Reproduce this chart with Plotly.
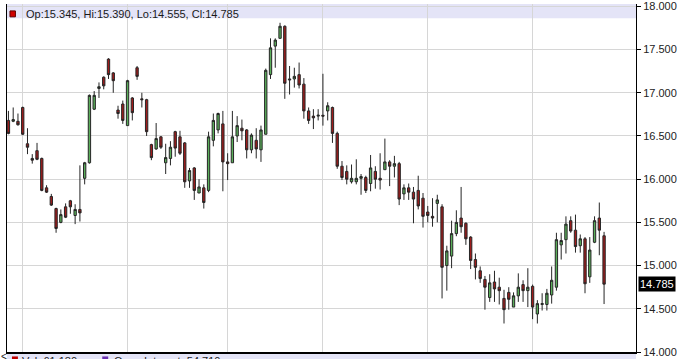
import plotly.graph_objects as go

opens = [16.68,16.67,16.67,16.83,16.41,16.24,16.33,16.24,15.90,15.80,
         15.66,15.50,15.68,15.75,15.58,15.65,16.01,16.19,16.81,17.05,
         17.18,17.39,17.23,16.80,16.87,16.62,16.94,17.29,16.93,16.92,
         16.40,16.35,16.49,16.19,16.24,16.55,16.49,16.42,15.98,16.13,
         15.84,15.90,15.87,16.45,16.57,16.64,16.20,16.19,16.50,16.59,
         16.57,16.34,16.45,16.34,16.52,17.21,17.54,17.63,17.77,17.16,
         17.16,17.21,17.10,16.79,16.73,16.73,16.74,16.79,16.83,16.53,
         16.15,16.09,15.97,15.97,16.01,16.02,15.95,16.09,16.01,16.11,
         16.20,16.15,16.18,15.83,15.90,15.85,15.87,15.78,15.62,15.57,
         15.72,15.68,15.00,15.11,15.37,15.55,15.49,15.33,15.07,14.94,
         14.84,14.63,14.81,14.75,14.62,14.69,14.52,14.65,14.78,14.71,
         14.76,14.44,14.55,14.55,14.66,14.75,15.24,15.30,15.52,15.41,
         15.23,15.31,14.87,15.27,15.55,15.345]
highs = [16.79,16.83,16.76,16.84,16.59,16.29,16.42,16.25,15.93,15.83,
         15.67,15.65,15.72,15.76,15.71,16.16,16.20,16.98,17.02,17.12,
         17.19,17.40,17.24,16.85,16.91,17.15,16.95,17.31,17.00,16.93,
         16.41,16.65,16.50,16.41,16.44,16.56,16.56,16.43,16.13,16.14,
         16.00,15.94,16.55,16.76,16.77,16.79,16.30,16.79,16.73,16.69,
         16.58,16.53,16.59,16.62,17.28,17.63,17.63,17.81,17.78,17.31,
         17.29,17.35,17.17,16.83,16.81,16.81,17.22,16.89,16.84,16.55,
         16.21,16.16,16.17,16.23,16.06,16.04,16.28,16.15,16.30,16.47,
         16.22,16.27,16.20,15.94,15.95,15.91,16.04,15.84,15.69,15.78,
         15.82,15.71,15.23,15.52,15.64,15.91,15.50,15.34,15.14,14.99,
         14.88,14.90,14.94,14.86,14.72,14.75,14.69,14.91,14.83,14.97,
         14.78,14.60,14.68,14.73,14.99,15.38,15.38,15.57,15.57,15.59,
         15.36,15.33,15.33,15.57,15.73,15.39]
lows = [16.52,16.66,16.62,16.51,16.29,16.18,16.22,15.86,15.84,15.69,
        15.38,15.49,15.55,15.60,15.48,15.51,15.94,16.18,16.80,16.94,
        17.04,17.16,17.00,16.70,16.64,16.62,16.68,17.15,16.83,16.50,
        16.22,16.34,16.35,16.06,16.16,16.26,16.28,15.90,15.90,15.76,
        15.84,15.66,15.85,16.38,16.53,15.86,15.99,16.19,16.43,16.45,
        16.24,16.30,16.24,16.20,16.52,17.16,17.29,17.63,16.93,16.98,
        17.06,17.05,16.70,16.64,16.58,16.68,16.62,16.68,16.42,16.12,
        15.99,15.94,15.95,15.94,15.82,15.84,15.86,15.89,15.88,16.11,
        15.92,16.02,15.70,15.76,15.76,15.49,15.65,15.44,15.50,15.45,
        15.50,14.62,14.71,14.97,15.34,15.38,15.24,14.96,14.84,14.80,
        14.49,14.58,14.58,14.55,14.33,14.49,14.52,14.58,14.58,14.52,
        14.38,14.33,14.48,14.48,14.56,14.71,15.07,15.14,15.38,15.15,
        15.15,14.68,14.80,15.26,15.12,14.555]
closes = [16.53,16.69,16.63,16.52,16.37,16.22,16.23,15.87,15.85,15.70,
          15.43,15.59,15.56,15.68,15.65,15.61,16.19,16.97,16.97,17.07,
          17.08,17.21,17.14,16.76,16.68,17.14,16.77,17.19,16.92,16.55,
          16.25,16.47,16.37,16.25,16.37,16.36,16.30,15.97,16.10,15.87,
          15.91,15.73,16.49,16.68,16.76,16.20,16.18,16.49,16.62,16.56,
          16.34,16.51,16.35,16.57,17.26,17.52,17.61,17.77,17.11,17.15,
          17.19,17.09,16.79,16.68,16.71,16.74,16.73,16.85,16.53,16.15,
          16.02,16.00,16.01,16.01,16.03,15.87,16.13,16.00,15.99,16.20,
          16.15,16.18,15.77,15.90,15.85,15.77,15.69,15.57,15.58,15.55,
          15.76,14.98,15.17,15.37,15.50,15.45,15.31,15.06,14.98,14.85,
          14.75,14.80,14.73,14.71,14.49,14.61,14.65,14.75,14.71,14.75,
          14.52,14.56,14.56,14.68,14.83,15.30,15.29,15.48,15.40,15.22,
          15.31,14.79,15.18,15.52,15.41,14.785]
bar_index = list(range(len(opens)))
month_marks = [3, 25, 46, 66, 88, 110]
price_ticks = [14.0, 14.5, 15.0, 15.5, 16.0, 16.5, 17.0, 17.5, 18.0]
price_labels = ["14.000", "14.500", "15.000", "15.500", "16.000",
                "16.500", "17.000", "17.500", "18.000"]
legend_text = "Op:15.345, Hi:15.390, Lo:14.555, Cl:14.785"
last_label = "14.785"
last_price = 14.785
vol_text = "Vol: 61,180"
oi_text = "Open Interest: 54,710"

FONT = "Liberation Sans, Arial, sans-serif"
W, H = 677, 359
ML, MR, MT, MB = 7, 36, 0, 7
PW = W - ML - MR
PH = H - MT - MB

fig = go.Figure()
fig.add_trace(go.Candlestick(
    x=bar_index, open=opens, high=highs, low=lows, close=closes,
    increasing=dict(fillcolor="#5aae5a", line=dict(color="#262626", width=1)),
    decreasing=dict(fillcolor="#9e1c1c", line=dict(color="#262626", width=1)),
    whiskerwidth=0, showlegend=False, hoverinfo="skip",
))

def px_x(p):
    return (p - ML) / PW

def px_y(p):
    return 1 - (p - MT) / PH

shapes = [
    # top info band
    dict(type="rect", xref="paper", yref="paper", x0=0, x1=1,
         y0=px_y(14.5), y1=1, fillcolor="#e4e4f7", line=dict(width=0), layer="below"),
    # red legend square
    dict(type="rect", xref="paper", yref="paper", x0=px_x(10), x1=px_x(15.5),
         y0=px_y(13), y1=px_y(7), fillcolor="#d00000", line=dict(color="#600000", width=1)),
    # bottom info band
    dict(type="rect", xref="paper", yref="paper", x0=0, x1=1,
         y0=px_y(359), y1=px_y(354), fillcolor="#e4e4f7", line=dict(width=0), layer="below"),
    dict(type="rect", xref="paper", yref="paper", x0=px_x(12), x1=px_x(18),
         y0=px_y(362), y1=px_y(356.5), fillcolor="#c00000", line=dict(width=0)),
    dict(type="rect", xref="paper", yref="paper", x0=px_x(103), x1=px_x(109),
         y0=px_y(362), y1=px_y(356.5), fillcolor="#6a2fb0", line=dict(width=0)),
]

annotations = [
    dict(xref="paper", yref="paper", x=px_x(24), y=px_y(10), xanchor="left", yanchor="middle",
         text=legend_text, showarrow=False, font=dict(family=FONT, size=11, color="#1a1a1a")),
    dict(xref="paper", yref="y", x=1, y=last_price, xanchor="left", yanchor="middle", xshift=2,
         text=last_label, showarrow=False, bgcolor="#000000", borderpad=1,
         font=dict(family=FONT, size=11, color="#ffffff")),
    dict(xref="paper", yref="paper", x=px_x(20), y=px_y(353.5), xanchor="left", yanchor="top",
         text=vol_text, showarrow=False, font=dict(family=FONT, size=11, color="#1a1a1a")),
    dict(xref="paper", yref="paper", x=px_x(113), y=px_y(353.5), xanchor="left", yanchor="top",
         text=oi_text, showarrow=False, font=dict(family=FONT, size=11, color="#1a1a1a")),
    dict(xref="paper", yref="paper", x=px_x(-1), y=px_y(349), xanchor="left", yanchor="top",
         text="<", showarrow=False, font=dict(family=FONT, size=10, color="#1a1a1a")),
]

fig.update_layout(
    width=W, height=H,
    margin=dict(l=ML, r=MR, t=MT, b=MB, pad=0),
    paper_bgcolor="#ffffff", plot_bgcolor="#ffffff",
    shapes=shapes, annotations=annotations,
    xaxis=dict(range=[-0.3, 131.7], tickvals=month_marks, showticklabels=False,
               ticks="", showgrid=True, gridcolor="#d6d6d6", gridwidth=1,
               zeroline=False, showline=True, linecolor="#000000", linewidth=2,
               rangeslider=dict(visible=False), fixedrange=True),
    yaxis=dict(side="right", range=[14.0, 14.0 + 352 / 87.4], tickvals=price_ticks,
               ticktext=price_labels, ticks="outside", ticklen=4, tickcolor="#000000",
               ticklabeloverflow="allow",
               showgrid=True, gridcolor="#d6d6d6", gridwidth=1, zeroline=False,
               showline=True, mirror=True, linecolor="#000000", linewidth=1,
               tickfont=dict(family=FONT, size=11, color="#222222"), fixedrange=True),
)

fig.write_html("out.html")
